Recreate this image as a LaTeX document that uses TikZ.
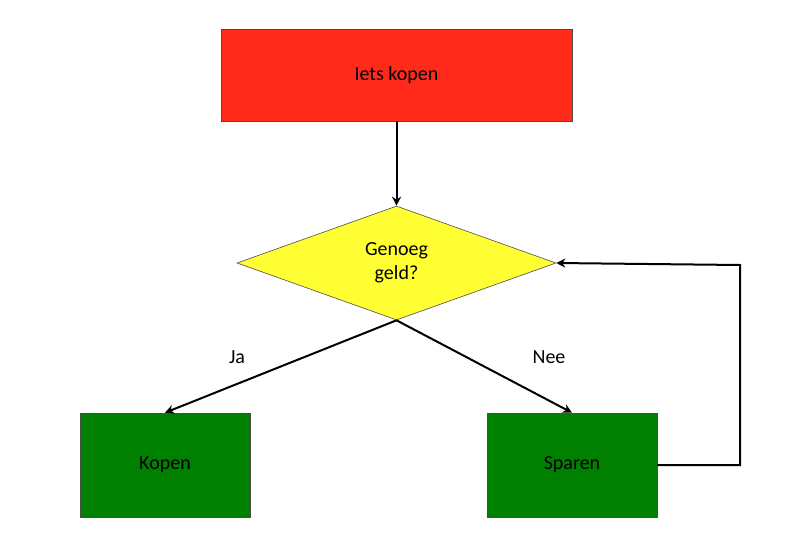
\documentclass[tikz,border=0pt]{standalone}
\usepackage{fontspec}
\setmainfont{Carlito}
\usetikzlibrary{shapes.geometric,arrows.meta}
\definecolor{redbox}{HTML}{FF2A1A}
\definecolor{greenbox}{HTML}{008000}
\definecolor{yel}{HTML}{FFFF33}
\begin{document}
\begin{tikzpicture}[x=1pt,y=-1pt,
  box/.style={draw=black!70,line width=0.6pt,minimum width=170pt,minimum height=104pt,inner sep=0pt,font=\fontsize{20}{24}\selectfont},
  conn/.style={line width=2pt,-{Stealth[length=9pt,width=9pt]}},
  lbl/.style={font=\fontsize{20}{24}\selectfont}]
\useasboundingbox (0,0) rectangle (800,552);
\node[box,fill=redbox,minimum width=351pt,minimum height=92pt] (start) at (396.5,75) {Iets kopen};
\node[draw=black!70,line width=0.6pt,fill=yel,diamond,aspect=2.8,minimum width=319pt,minimum height=114pt,inner sep=0pt,align=center,font=\fontsize{20}{24}\selectfont] (q) at (396.5,263) {Genoeg\\geld?};
\node[box,fill=greenbox] (kopen) at (165,465) {Kopen};
\node[box,fill=greenbox] (sparen) at (572,465) {Sparen};
\coordinate (c1) at (740,465);
\coordinate (c2) at (740,265);
\draw[conn] (start.south) -- (q.north);
\draw[conn] (q.south) -- (kopen.north);
\draw[conn] (q.south) -- (sparen.north);
\draw[conn] (sparen.east) -- (c1) -- (c2) -- (q.east);
\node[lbl] (ja) at (237,357) {Ja};
\node[lbl] (nee) at (549,357) {Nee};
\end{tikzpicture}
\end{document}
